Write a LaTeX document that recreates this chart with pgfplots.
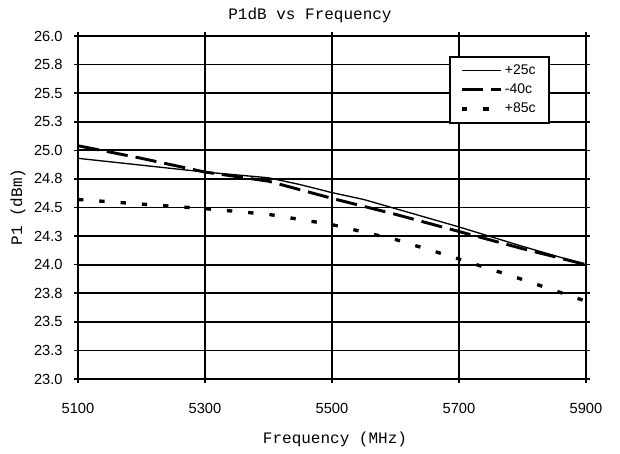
\documentclass[border=0pt]{standalone}
\usepackage{pgfplots}
\pgfplotsset{compat=1.18}
\usepackage{fontspec}
\setmainfont{Liberation Sans}
\newfontfamily\mono{Liberation Mono}

\begin{document}
\begin{tikzpicture}
\useasboundingbox (-58.5pt,-55.5pt) rectangle (406.5pt,284.25pt);
\begin{axis}[
  at={(0,0)}, anchor=south west,
  scale only axis,
  width=381pt, height=257.25pt,
  xmin=5100, xmax=5900,
  ymin=23, ymax=26,
  xtick={5100,5300,5500,5700,5900},
  xticklabels={5100,5300,5500,5700,5900},
  ytick={23,23.25,...,26},
  yticklabels={23.0,23.3,23.5,23.8,24.0,24.3,24.5,24.8,25.0,25.3,25.5,25.8,26.0},
  grid=major,
  major grid style={black, line width=1.3pt},
  axis line style={black, line width=1.4pt},
  tick align=outside,
  major tick length=3pt,
  tick style={black, line width=1.2pt},
  tick label style={font=\fontsize{11}{13}\selectfont},
  xticklabel style={yshift=-12pt},
  yticklabel style={xshift=-5pt},
  legend style={
    at={(0.929,0.942)}, anchor=north east,
    draw=black, line width=1.4pt, fill=white,
    font=\fontsize{10.5}{12}\selectfont,
    inner xsep=8pt, inner ysep=4pt,
    row sep=1.5pt,
  },
  legend cell align=left,
  legend image code/.code={\draw[#1] (0pt,0pt) -- (29pt,0pt);},
]
% +25c
\addplot[black, line width=1pt] coordinates {
  (5100,24.93) (5200,24.87) (5300,24.81) (5400,24.76) (5450,24.70)
  (5500,24.63) (5550,24.57) (5600,24.49) (5700,24.33) (5800,24.16) (5900,24.00)
};
% -40c
\addplot[black, line width=2.2pt, dash pattern=on 16pt off 6pt] coordinates {
  (5100,25.04) (5200,24.93) (5300,24.81) (5400,24.73) (5500,24.58)
  (5600,24.44) (5700,24.29) (5800,24.14) (5900,24.00)
};
% +85c
\addplot[black, line width=2.5pt, dash pattern=on 4pt off 12pt] coordinates {
  (5100,24.57) (5200,24.53) (5300,24.49) (5400,24.44) (5500,24.35)
  (5600,24.22) (5700,24.05) (5800,23.87) (5900,23.68)
};
\legend{+25c,-40c,+85c}
\end{axis}
\node[font=\mono\fontsize{12}{14}\selectfont] at (174pt,273pt) {P1dB vs Frequency};
\node[font=\mono\fontsize{12}{14}\selectfont] at (192.75pt,-45pt) {Frequency (MHz)};
\node[font=\mono\fontsize{12}{14}\selectfont, rotate=90] at (-45pt,129pt) {P1 (dBm)};
\end{tikzpicture}
\end{document}
